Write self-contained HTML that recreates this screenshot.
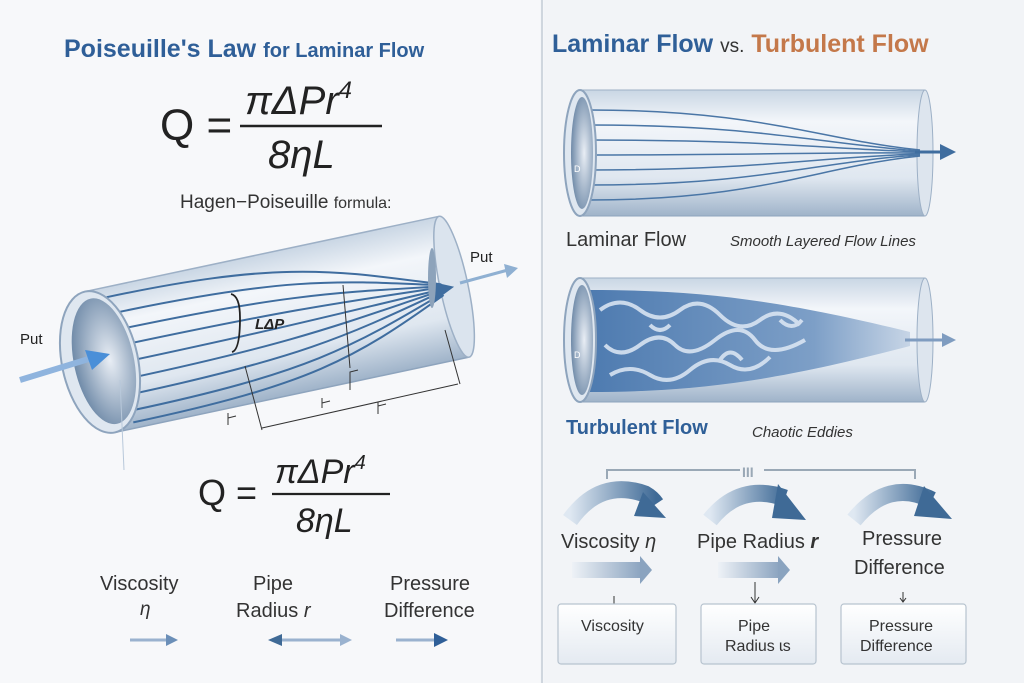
<!DOCTYPE html>
<html><head><meta charset="utf-8"><style>
html,body{margin:0;padding:0;}
body{width:1024px;height:683px;overflow:hidden;background:#f4f6f9;font-family:"Liberation Sans",sans-serif;}
svg{display:block}
</style></head><body>
<svg width="1024" height="683" viewBox="0 0 1024 683" xmlns="http://www.w3.org/2000/svg">
<defs>
<linearGradient id="pipeV" x1="0" y1="0" x2="0" y2="1">
<stop offset="0" stop-color="#c9d6e4"/><stop offset="0.25" stop-color="#f3f6fa"/><stop offset="0.7" stop-color="#dfe7f0"/><stop offset="1" stop-color="#9fb3c9"/></linearGradient>
<radialGradient id="hole" cx="0.6" cy="0.5" r="0.6"><stop offset="0" stop-color="#e9eef5"/><stop offset="1" stop-color="#6f8aa8"/></radialGradient>
<linearGradient id="arc" x1="0" x2="1"><stop offset="0" stop-color="#dfe8f2"/><stop offset="1" stop-color="#3f6a96"/></linearGradient>
<linearGradient id="fade" x1="0" x2="1"><stop offset="0" stop-color="#eef2f7"/><stop offset="1" stop-color="#8aa3bf"/></linearGradient>
<linearGradient id="turb" x1="0" x2="1"><stop offset="0" stop-color="#4e7bb0"/><stop offset="0.7" stop-color="#7d9fc7"/><stop offset="1" stop-color="#c7d5e6"/></linearGradient>
<linearGradient id="box" x1="0" y1="0" x2="0" y2="1"><stop offset="0" stop-color="#ffffff"/><stop offset="1" stop-color="#e4eaf1"/></linearGradient>
</defs>
<rect x="0" y="0" width="540" height="683" fill="#f7f8fa"/>
<rect x="544" y="0" width="480" height="683" fill="#f2f4f7"/>
<line x1="542" y1="0" x2="542" y2="683" stroke="#cfd6de" stroke-width="2"/>

<!-- LEFT -->
<text x="64" y="57" font-size="25" font-weight="bold" fill="#2f5f98">Poiseuille's Law <tspan font-size="20">for Laminar Flow</tspan></text>
<text x="160" y="140" font-size="44" fill="#222">Q =</text>
<text x="245" y="114" font-size="40" font-style="italic" fill="#222">πΔPr<tspan font-size="24" dy="-16">4</tspan></text>
<line x1="240" y1="126" x2="382" y2="126" stroke="#222" stroke-width="2.5"/>
<text x="268" y="168" font-size="40" font-style="italic" fill="#222">8ηL</text>
<text x="180" y="208" font-size="19" fill="#333">Hagen−Poiseuille <tspan font-size="16">formula:</tspan></text>

<g transform="translate(100,362) rotate(-12)">
<rect x="0" y="-72" width="362" height="144" fill="url(#pipeV)"/>
<line x1="0" y1="-72" x2="362" y2="-72" stroke="#9db0c6" stroke-width="1.5"/>
<line x1="0" y1="72" x2="362" y2="72" stroke="#8ea4bd" stroke-width="1.5"/>
<ellipse cx="362" cy="0" rx="14" ry="72" fill="#dbe4ee" stroke="#9db0c6" stroke-width="1.5"/>
<g stroke="#3f6d9f" stroke-width="2" fill="none">
<path d="M20,-62 C200,-62 250,-40 350,-5"/>
<path d="M20,-45 C200,-45 250,-30 350,-4"/>
<path d="M20,-28 C200,-28 250,-18 350,-3"/>
<path d="M20,-12 C200,-12 250,-8 350,-2"/>
<path d="M20,5 C200,5 250,2 350,0"/>
<path d="M20,22 C200,22 250,12 350,1"/>
<path d="M20,38 C200,38 250,25 350,2"/>
<path d="M20,54 C200,54 250,38 350,4"/>
<path d="M20,66 C200,66 250,50 350,6"/>
</g>
<path d="M340,-10 L362,0 L340,10 Z" fill="#3f6d9f"/>
<ellipse cx="0" cy="0" rx="38" ry="72" fill="#dfe7f0" stroke="#8ea4bd" stroke-width="2"/>
<ellipse cx="4" cy="0" rx="30" ry="64" fill="url(#hole)"/>
</g>
<path d="M20,380 L92,358" stroke="#8fb4de" stroke-width="6"/>
<path d="M85,350 L110,354 L92,370 Z" fill="#4a8fd8"/>
<text x="20" y="344" font-size="15" fill="#222">Put</text>
<path d="M460,283 L508,270" stroke="#8fb0d2" stroke-width="3"/>
<path d="M504,264 L518,268 L507,278 Z" fill="#8fb0d2"/>
<text x="470" y="262" font-size="15" fill="#222">Put</text>
<ellipse cx="432" cy="278" rx="4" ry="30" fill="#8da3bb"/>
<text x="255" y="329" font-size="15" font-weight="bold" font-style="italic" fill="#222">LΔP</text>
<path d="M231,294 Q240,296 240,318 Q240,350 232,352" stroke="#222" stroke-width="1.8" fill="none"/>
<g stroke="#333" stroke-width="1" fill="none">
<line x1="262" y1="428" x2="458" y2="384"/>
<line x1="245" y1="366" x2="262" y2="430"/>
<line x1="445" y1="330" x2="460" y2="384"/>
<line x1="343" y1="285" x2="350" y2="368"/>
<path d="M350,390 L350,372 L358,370"/>
<path d="M322,408 L322,398 M322,403 L330,401"/>
<path d="M228,425 L228,413 M228,418 L236,416"/>
<path d="M378,414 L378,402 M378,406 L386,404"/>
<line x1="120" y1="380" x2="124" y2="470" stroke="#b8c8da"/>
</g>

<text x="198" y="505" font-size="36" fill="#222">Q =</text>
<text x="275" y="483" font-size="34" font-style="italic" fill="#222">πΔPr<tspan font-size="20" dy="-14">4</tspan></text>
<line x1="272" y1="494" x2="390" y2="494" stroke="#222" stroke-width="2.2"/>
<text x="296" y="532" font-size="34" font-style="italic" fill="#222">8ηL</text>

<text x="100" y="590" font-size="20" fill="#333">Viscosity</text>
<text x="140" y="615" font-size="19" font-style="italic" fill="#333">η</text>
<text x="253" y="590" font-size="20" fill="#333">Pipe</text>
<text x="236" y="617" font-size="20" fill="#333">Radius <tspan font-style="italic">r</tspan></text>
<text x="390" y="590" font-size="20" fill="#333">Pressure</text>
<text x="384" y="617" font-size="20" fill="#333">Difference</text>
<g stroke-width="3">
<line x1="130" y1="640" x2="168" y2="640" stroke="#9ab2cf"/>
<path d="M166,634 L178,640 L166,646Z" fill="#6b8fb8"/>
<line x1="280" y1="640" x2="340" y2="640" stroke="#9ab2cf"/>
<path d="M282,634 L268,640 L282,646Z" fill="#3f6a96"/>
<path d="M340,634 L352,640 L340,646Z" fill="#9ab2cf"/>
<line x1="396" y1="640" x2="436" y2="640" stroke="#9ab2cf"/>
<path d="M434,633 L448,640 L434,647Z" fill="#2f5f98"/>
</g>

<!-- RIGHT -->
<text x="552" y="52" font-size="25" font-weight="bold" fill="#2f5f98">Laminar Flow <tspan font-size="19" font-weight="normal" fill="#333">vs.</tspan> <tspan fill="#c4784a">Turbulent Flow</tspan></text>

<g>
<rect x="580" y="90" width="345" height="126" fill="url(#pipeV)"/>
<line x1="580" y1="90" x2="925" y2="90" stroke="#9db0c6"/>
<line x1="580" y1="216" x2="925" y2="216" stroke="#8ea4bd"/>
<ellipse cx="925" cy="153" rx="8" ry="63" fill="#dde5ee" stroke="#9db0c6"/>
<g stroke="#4a76a6" stroke-width="1.5" fill="none">
<path d="M590,110 C760,110 820,140 920,150"/>
<path d="M590,125 C760,125 820,144 920,151"/>
<path d="M590,140 C760,140 820,148 920,152"/>
<path d="M590,155 C760,155 820,152 920,153"/>
<path d="M590,170 C760,170 820,157 920,154"/>
<path d="M590,185 C760,185 820,161 920,155"/>
<path d="M590,200 C760,200 820,166 920,156"/>
</g>
<path d="M915,152 L950,152" stroke="#3f6d9f" stroke-width="3"/>
<path d="M940,144 L956,152 L940,160Z" fill="#3f6d9f"/>
<ellipse cx="580" cy="153" rx="16" ry="63" fill="#dfe7f0" stroke="#8ea4bd" stroke-width="2"/>
<ellipse cx="582" cy="153" rx="11" ry="56" fill="url(#hole)"/>
<text x="574" y="172" font-size="9" fill="#fff">D</text>
</g>
<text x="566" y="246" font-size="20" fill="#333">Laminar Flow</text>
<text x="730" y="246" font-size="15" font-style="italic" fill="#333">Smooth Layered Flow Lines</text>

<g>
<rect x="580" y="278" width="345" height="124" fill="url(#pipeV)"/>
<line x1="580" y1="278" x2="925" y2="278" stroke="#9db0c6"/>
<line x1="580" y1="402" x2="925" y2="402" stroke="#8ea4bd"/>
<ellipse cx="925" cy="340" rx="8" ry="62" fill="#dde5ee" stroke="#9db0c6"/>
<path d="M590,290 C700,290 780,300 910,332 L910,346 C780,380 700,392 590,392 Z" fill="url(#turb)"/>
<g stroke="#dfe9f5" stroke-width="4" fill="none" opacity="0.85">
<path d="M600,310 q20,-15 40,0 t40,0 t40,5 t40,5 t40,5"/>
<path d="M605,345 q15,15 35,0 t35,0 t40,-5 t40,0 t50,0"/>
<path d="M610,375 q20,-12 40,0 t40,-5 t40,-5 t40,-8"/>
<path d="M650,325 q10,10 20,0 M720,360 q10,-15 22,0 M780,320 q12,12 22,0"/>
</g>
<path d="M905,340 L950,340" stroke="#7f9cc0" stroke-width="3"/>
<path d="M942,333 L956,340 L942,347Z" fill="#7f9cc0"/>
<ellipse cx="580" cy="340" rx="16" ry="62" fill="#dfe7f0" stroke="#8ea4bd" stroke-width="2"/>
<ellipse cx="582" cy="340" rx="11" ry="55" fill="url(#hole)"/>
<text x="574" y="358" font-size="9" fill="#fff">D</text>
</g>
<text x="566" y="434" font-size="20" font-weight="bold" fill="#2f5f98">Turbulent Flow</text>
<text x="752" y="437" font-size="15" font-style="italic" fill="#333">Chaotic Eddies</text>

<path d="M607,479 L607,470 L915,470 L915,479" stroke="#9aa8b6" stroke-width="2" fill="none"/>
<rect x="740" y="463" width="24" height="14" fill="#f2f4f7"/>
<text x="742" y="477" font-size="14" font-weight="bold" fill="#9aa8b6">III</text>
<g fill="none" stroke="url(#arc)" stroke-width="17">
<path d="M570,520 Q600,478 645,494 Q652,498 656,504"/>
<path d="M710,520 Q740,482 785,498"/>
<path d="M854,520 Q888,478 932,500"/>
</g>
<path d="M643,492 L666,518 L634,516Z" fill="#3f6a96"/>
<path d="M778,484 L806,520 L772,518Z" fill="#3f6a96"/>
<path d="M924,486 L952,519 L914,516Z" fill="#3f6a96"/>
<text x="561" y="548" font-size="20" fill="#333">Viscosity <tspan font-style="italic">η</tspan></text>
<text x="697" y="548" font-size="20" fill="#333">Pipe Radius  <tspan font-style="italic" font-weight="bold">r</tspan></text>
<text x="862" y="545" font-size="20" fill="#333">Pressure</text>
<text x="854" y="574" font-size="20" fill="#333">Difference</text>
<g>
<rect x="572" y="562" width="70" height="16" fill="url(#fade)"/>
<path d="M640,556 L652,570 L640,584Z" fill="#8aa3bf"/>
<rect x="718" y="562" width="62" height="16" fill="url(#fade)"/>
<path d="M778,556 L790,570 L778,584Z" fill="#8aa3bf"/>
</g>
<g stroke="#333" stroke-width="1">
<line x1="614" y1="596" x2="614" y2="604"/>
<line x1="755" y1="582" x2="755" y2="602"/><path d="M751,597 L755,603 L759,597" fill="none"/>
<line x1="903" y1="592" x2="903" y2="602"/><path d="M900,598 L903,602 L906,598" fill="none"/>
</g>
<g stroke="#b7c3cf" stroke-width="1.2" fill="url(#box)">
<rect x="558" y="604" width="118" height="60" rx="3"/>
<rect x="701" y="604" width="115" height="60" rx="3"/>
<rect x="841" y="604" width="125" height="60" rx="3"/>
</g>
<text x="581" y="631" font-size="16" fill="#333">Viscosity</text>
<text x="738" y="631" font-size="16" fill="#333">Pipe</text>
<text x="725" y="651" font-size="16" fill="#333">Radius ɩs</text>
<text x="869" y="631" font-size="16" fill="#333">Pressure</text>
<text x="860" y="651" font-size="16" fill="#333">Difference</text>
</svg>
</body></html>
